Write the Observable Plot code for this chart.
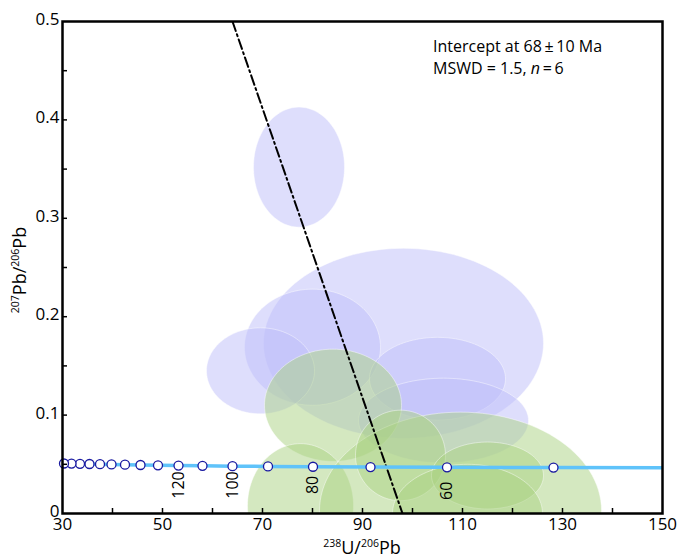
<!DOCTYPE html>
<html>
<head>
<meta charset="utf-8">
<script src="https://cdn.jsdelivr.net/npm/d3@7"></script>
<script src="https://cdn.jsdelivr.net/npm/@observablehq/plot@0.6"></script>
<style>
  html, body { margin: 0; padding: 0; background: #fff; }
  #chart { width: 681px; height: 560px; }
</style>
</head>
<body>
<div id="chart"></div>
<script>
// ---- Data ----
// Concordia points (Ma) and their 238U/206Pb, 207Pb/206Pb coordinates
const concAges = [50, 60, 70, 80, 90, 100, 110, 120, 130, 140, 150, 160, 170, 180, 190, 200, 210];
const concX = [128.2, 106.9, 91.6, 80.1, 71.1, 64.0, 58.0, 53.2, 49.1, 45.6, 42.5, 39.8, 37.5, 35.4, 33.5, 31.8, 30.3];
const concY = [0.0467, 0.0469, 0.0472, 0.0475, 0.0478, 0.0481, 0.0484, 0.0487, 0.0490, 0.0493, 0.0496, 0.0499, 0.0501, 0.0503, 0.0505, 0.0507, 0.0508];
// concordia curve end points at the frame edges
const concEndX = [150, 30];
const concEndY = [0.0465, 0.0509];
// labelled ages
const labelAges = ["120", "100", "80", "60"];
const labelX = [53.2, 64.0, 80.1, 106.9];
const labelY = [0.029, 0.029, 0.029, 0.023];
// regression (discordia) line
const regX = [64.0, 98.0];
const regY = [0.5, 0.0];
// Analyses excluded (blue) : centre, semi-axes
const blueCx = [77.3, 98.2, 80.0, 69.6, 105.0, 106.2];
const blueCy = [0.352, 0.173, 0.169, 0.145, 0.137, 0.0945];
const blueRx = [9.1, 28.0, 13.6, 10.8, 13.6, 17.0];
const blueRy = [0.061, 0.0965, 0.059, 0.0437, 0.042, 0.043];
// Analyses used (green)
const greenCx = [84.1, 77.6, 109.6, 97.6, 115.0, 111.0];
const greenCy = [0.110, 0.008, 0.003, 0.059, 0.0386, 0.0];
const greenRx = [13.7, 10.6, 28.2, 9.0, 11.2, 15.0];
const greenRy = [0.057, 0.063, 0.100, 0.046, 0.034, 0.050];
// Axis ticks
const xLabelTicks = [30, 50, 70, 90, 110, 130, 150];
const xMinorTicks = [40, 50, 60, 70, 80, 90, 100, 110, 120, 130, 140];
const yLabelTicks = [0, 0.1, 0.2, 0.3, 0.4, 0.5];
const yMinorTicks = [0.05, 0.1, 0.15, 0.2, 0.25, 0.3, 0.35, 0.4, 0.45];

// ---- Build tables ----
function ellipseOutline(cx, cy, rx, ry, group) {
  const pts = [];
  const N = 120;
  for (let i = 0; i < N; i++) {
    const t = (i / N) * 2 * Math.PI;
    pts.push({x: cx[group] + rx[group] * Math.cos(t), y: cy[group] + ry[group] * Math.sin(t), id: group});
  }
  return pts;
}
const blueTable = blueCx.flatMap((_, i) => ellipseOutline(blueCx, blueCy, blueRx, blueRy, i));
const greenTable = greenCx.flatMap((_, i) => ellipseOutline(greenCx, greenCy, greenRx, greenRy, i));
const concTable = concX.map((x, i) => ({x, y: concY[i], age: concAges[i]}));
const concLine = [{x: concEndX[0], y: concEndY[0]}, ...concTable, {x: concEndX[1], y: concEndY[1]}];
const labelTable = labelAges.map((t, i) => ({t, x: labelX[i], y: labelY[i]}));
const regTable = regX.map((x, i) => ({x, y: regY[i]}));

const FONT = "'Open Sans', 'Noto Sans', sans-serif";

const chart = Plot.plot({
  width: 681,
  height: 560,
  marginLeft: 62,
  marginRight: 19,
  marginTop: 21,
  marginBottom: 47,
  style: {fontFamily: FONT, fontSize: "17px", color: "black", background: "white"},
  x: {domain: [30, 150]},
  y: {domain: [0, 0.5]},
  marks: [
    Plot.line(blueTable, {x: "x", y: "y", z: "id", curve: "linear-closed", fill: "rgb(190,190,250)", fillOpacity: 0.5, stroke: "white", strokeOpacity: 0.45, strokeWidth: 1, clip: true}),
    Plot.line(greenTable, {x: "x", y: "y", z: "id", curve: "linear-closed", fill: "rgb(170,210,130)", fillOpacity: 0.5, stroke: "white", strokeOpacity: 0.45, strokeWidth: 1, clip: true}),
    Plot.line(regTable, {x: "x", y: "y", stroke: "black", strokeWidth: 2, strokeDasharray: "10,3.5,2,3.5", clip: true}),
    Plot.line(concLine, {x: "x", y: "y", stroke: "rgb(95,195,250)", strokeWidth: 3.5, clip: true}),
    Plot.dot(concTable, {x: "x", y: "y", r: 4.5, stroke: "rgb(25,25,160)", strokeWidth: 1.3, fill: "white"}),
    Plot.text(labelTable, {x: "x", y: "y", text: "t", rotate: -90, fontSize: 16, fill: "black"}),
    Plot.axisX({ticks: xMinorTicks, tickSize: 5, dy: -5, tickFormat: () => "", label: null, strokeWidth: 1.5}),
    Plot.axisX({ticks: xLabelTicks, tickSize: 0, tickPadding: 4, label: null}),
    Plot.axisY({ticks: yMinorTicks, tickSize: 5, dx: 5, tickFormat: () => "", label: null, strokeWidth: 1.5}),
    Plot.axisY({ticks: yLabelTicks, tickSize: 0, tickPadding: 3, dy: -2, label: null, tickFormat: d => d === 0 ? "0" : d.toFixed(1)}),
    Plot.frame({stroke: "black", strokeWidth: 2.5})
  ]
});

const svg = d3.select(chart);
// y axis title
const yt = svg.append("text")
  .attr("transform", "translate(26,270) rotate(-90)")
  .attr("text-anchor", "middle")
  .attr("font-family", FONT)
  .attr("font-size", 18)
  .attr("fill", "black");
yt.append("tspan").attr("font-size", 10.5).attr("dy", -7).text("207");
yt.append("tspan").attr("dy", 7).text("Pb/");
yt.append("tspan").attr("font-size", 10.5).attr("dy", -7).text("206");
yt.append("tspan").attr("dy", 7).text("Pb");
// x axis title
const xt = svg.append("text")
  .attr("x", 362).attr("y", 554)
  .attr("text-anchor", "middle")
  .attr("font-family", FONT)
  .attr("font-size", 18)
  .attr("fill", "black");
xt.append("tspan").attr("font-size", 10.5).attr("dy", -7).text("238");
xt.append("tspan").attr("dy", 7).text("U/");
xt.append("tspan").attr("font-size", 10.5).attr("dy", -7).text("206");
xt.append("tspan").attr("dy", 7).text("Pb");
// annotation
const a1 = svg.append("text").attr("x", 433).attr("y", 52)
  .attr("text-anchor", "start")
  .attr("font-family", FONT).attr("font-size", 16).attr("fill", "black")
  .text("Intercept at 68\u2009\u00B1\u200910 Ma");
const a2 = svg.append("text").attr("x", 433).attr("y", 74)
  .attr("text-anchor", "start")
  .attr("font-family", FONT).attr("font-size", 16).attr("fill", "black");
a2.append("tspan").text("MSWD = 1.5, ");
a2.append("tspan").attr("font-style", "italic").text("n");
a2.append("tspan").text("\u2009=\u20096");

document.getElementById("chart").appendChild(chart);
</script>
</body>
</html>
